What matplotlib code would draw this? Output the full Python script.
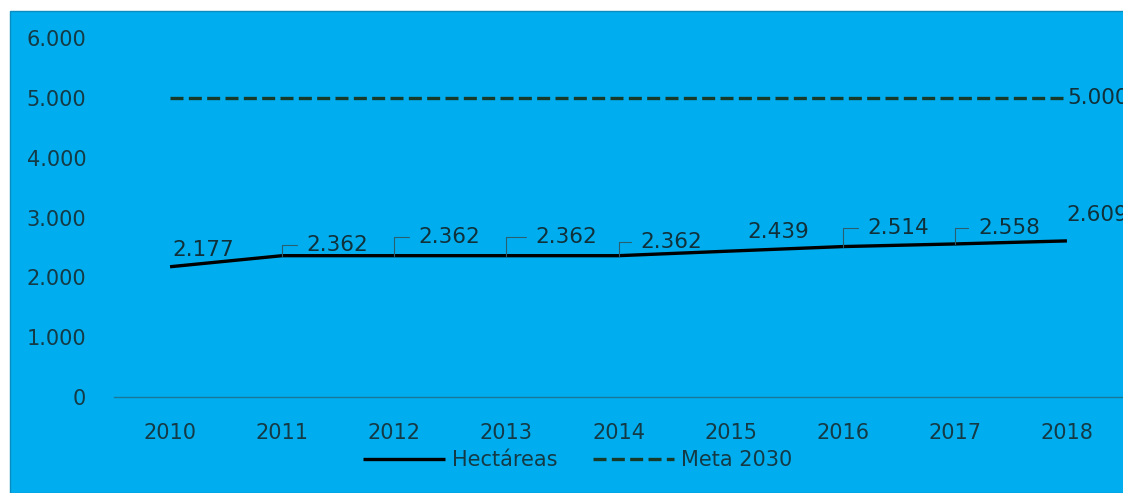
import matplotlib.pyplot as plt
import matplotlib.patches as mpatches

# data
years = ['2010', '2011', '2012', '2013', '2014', '2015', '2016', '2017', '2018']
hectareas = [2177, 2362, 2362, 2362, 2362, 2439, 2514, 2558, 2609]
meta_2030 = [5000] * len(years)
yticks = [0, 1000, 2000, 3000, 4000, 5000, 6000]


def fmt(v):
    return f'{v:,.0f}'.replace(',', '.')


# label offsets in pixels (dx, dy) and whether a leader line is drawn
label_offsets = [(33, 17), (55, 11), (55, 19), (60, 19), (53, 14), (48, 19), (56, 19), (54, 16), (30, 26)]
leaders = [False, True, True, True, True, False, True, True, False]

bg = '#00AEEF'
txt = '#143a46'

fig = plt.figure(figsize=(11.23, 4.93), dpi=100)
fig.patch.set_facecolor('white')
rect = mpatches.Rectangle((10 / 1123, 0), 1, 1 - 11 / 493, transform=fig.transFigure,
                          facecolor=bg, edgecolor='#0a8cc0', lw=1, zorder=-5)
fig.add_artist(rect)

ax = fig.add_axes([114 / 1123, 96 / 493, 1 - 114 / 1123, 359 / 493])
ax.set_facecolor('none')
x = list(range(len(years)))

ax.plot(x, hectareas, color='black', lw=2.4, solid_capstyle='butt', label='Hectáreas', zorder=3)
ax.plot(x, meta_2030, color='#173a2a', lw=2.4, linestyle=(0, (3.9, 1.6)), label='Meta 2030', zorder=3)

ax.set_xlim(-0.5, 8.5)
ax.set_ylim(0, 6000)
ax.set_xticks(x)
ax.set_xticklabels(years)
ax.set_yticks(yticks)
ax.set_yticklabels([fmt(v) for v in yticks])
ax.tick_params(axis='both', length=0, labelsize=15, labelcolor=txt)
ax.tick_params(axis='y', pad=20)
ax.tick_params(axis='x', pad=19)
for s in ['top', 'right', 'left']:
    ax.spines[s].set_visible(False)
ax.spines['bottom'].set_color('#1a7898')
ax.spines['bottom'].set_linewidth(1)

px = 72 / 100
for i, v in enumerate(hectareas):
    dx, dy = label_offsets[i]
    arrow = None
    if leaders[i]:
        arrow = dict(arrowstyle='-', color='#2a5f70', lw=0.8, relpos=(0, 0.5),
                     connectionstyle='angle,angleA=0,angleB=90,rad=0', shrinkA=5, shrinkB=0)
    ax.annotate(fmt(v), xy=(i, v), xytext=(dx * px, dy * px), textcoords='offset points',
                ha='center', va='center', fontsize=15.5, color='#10303a',
                arrowprops=arrow, annotation_clip=False, zorder=4)

ax.annotate(fmt(meta_2030[-1]), xy=(8, meta_2030[-1]), xytext=(0, 0), textcoords='offset points',
            ha='left', va='center', fontsize=15.5, color='#10303a', annotation_clip=False)

fig.legend(loc='center', bbox_to_anchor=(578 / 1123, 1 - 460 / 493), ncol=2, frameon=False,
           fontsize=15, labelcolor=txt, handlelength=3.9, handletextpad=0.35, columnspacing=1.7,
           borderpad=0, borderaxespad=0)

fig.savefig('out.png', dpi=100, facecolor=fig.get_facecolor())
